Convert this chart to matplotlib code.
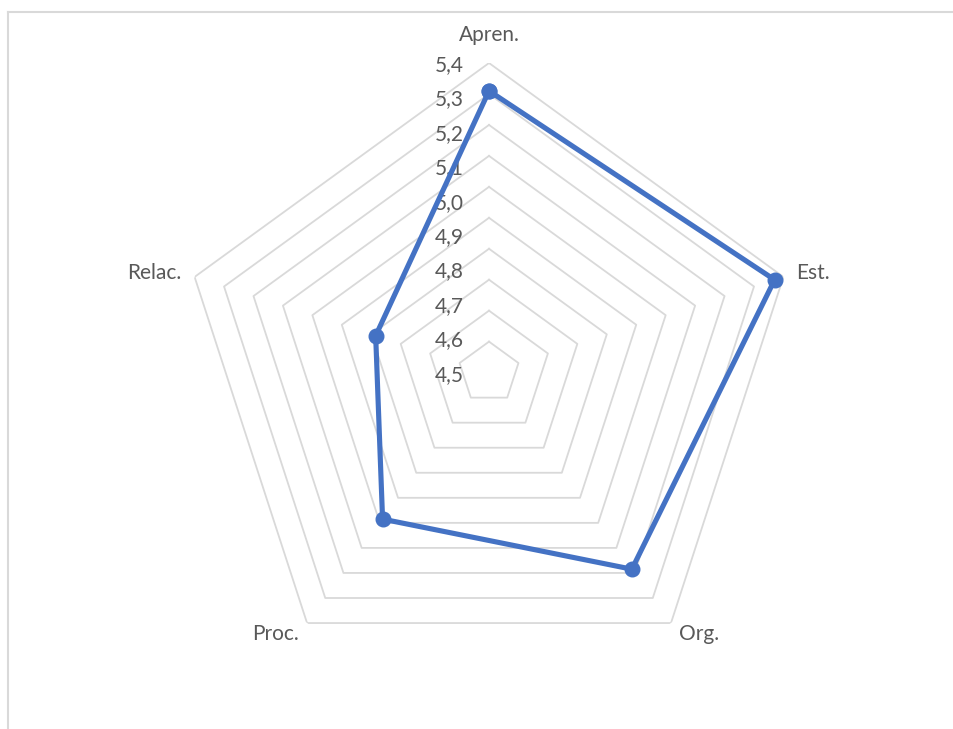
import numpy as np
import matplotlib.pyplot as plt
from matplotlib.lines import Line2D

categorias = ["Apren.", "Est.", "Org.", "Proc.", "Relac."]
valores = [5.31, 5.37, 5.185, 4.985, 4.785]
anillos = [4.5, 4.6, 4.7, 4.8, 4.9, 5.0, 5.1, 5.2, 5.3, 5.4]
etiquetas_r = ["4,5", "4,6", "4,7", "4,8", "4,9", "5,0", "5,1", "5,2", "5,3", "5,4"]
r_min, r_max = 4.4, 5.4

# offsets (pixels) y alineacion para las etiquetas de categoria
pos_etiquetas = [
    ((0, 28), "center", "center"),
    ((13, 4), "left", "center"),
    ((8, -11), "left", "center"),
    ((-8, -11), "right", "center"),
    ((-13, 4), "right", "center"),
]


def main() -> None:
    plt.rcParams["font.family"] = ["Lato", "DejaVu Sans"]
    gris_texto = "#595959"
    gris_rejilla = "#d9d9d9"
    azul = "#4472C4"

    fig = plt.figure(figsize=(9.54, 7.29), dpi=100)
    ax = fig.add_axes([0.1881, 0.0642, 0.649, 0.8494], projection="polar")
    ax.set_theta_zero_location("N")
    ax.set_theta_direction(-1)
    ax.set_ylim(r_min, r_max)
    ax.grid(False)
    ax.spines["polar"].set_visible(False)
    ax.set_xticks([])
    ax.set_yticks([])
    ax.patch.set_alpha(0)

    n = len(categorias)
    angulos = np.arange(n) * 2 * np.pi / n
    ang_cerrado = np.append(angulos, angulos[0])

    for r in anillos:
        ax.plot(ang_cerrado, [r] * (n + 1), color=gris_rejilla, lw=1.3, zorder=1)

    # Excel reparte las etiquetas un poco mas separadas que los anillos
    for k, (r, txt) in enumerate(zip(anillos[::-1], etiquetas_r[::-1])):
        ax.annotate(txt, xy=(0, r), xytext=(-25, -(2 + k * 3.44)),
                    textcoords="offset pixels", ha="right", va="center",
                    fontsize=15, color=gris_texto)

    for ang, cat, (off, ha, va) in zip(angulos, categorias, pos_etiquetas):
        ax.annotate(cat, xy=(ang, r_max), xytext=off, textcoords="offset pixels",
                    ha=ha, va=va, fontsize=15, color=gris_texto)

    vals_cerrado = valores + valores[:1]
    ax.plot(ang_cerrado, vals_cerrado, color=azul, lw=3.7, marker="o",
            markersize=10.5, zorder=3, clip_on=False)

    # borde del area del grafico (solo visible arriba e izquierda)
    fig.add_artist(Line2D([8 / 954, 1], [1 - 12 / 729, 1 - 12 / 729],
                          transform=fig.transFigure, color=gris_rejilla, lw=1.5))
    fig.add_artist(Line2D([8 / 954, 8 / 954], [0, 1 - 12 / 729],
                          transform=fig.transFigure, color=gris_rejilla, lw=1.5))

    fig.savefig("out.png", dpi=100, facecolor="white")


if __name__ == "__main__":
    main()
